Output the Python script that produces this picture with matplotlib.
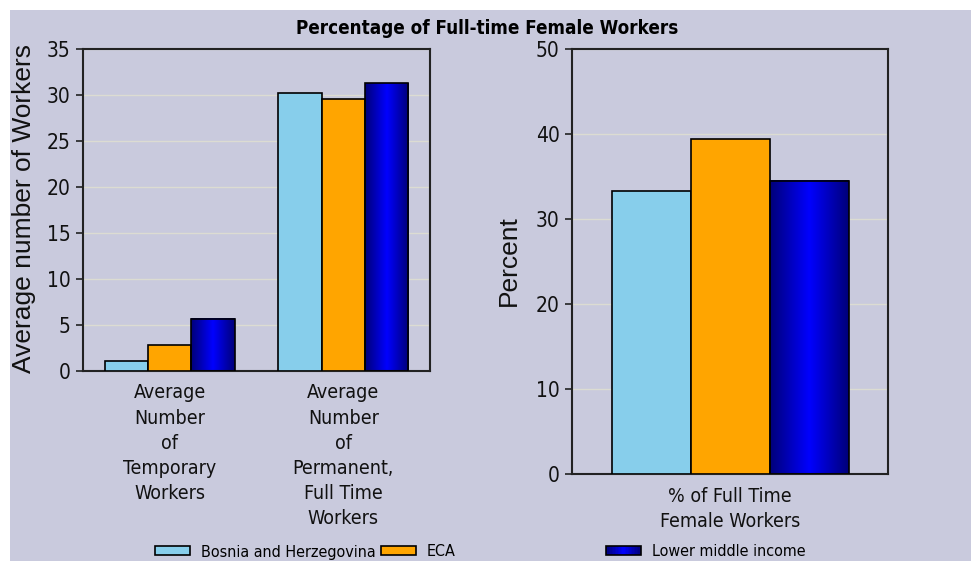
import numpy as np
import matplotlib
matplotlib.use("Agg")
from matplotlib import pyplot as plt
from matplotlib import font_manager
from matplotlib.patches import Rectangle
from matplotlib.colors import LinearSegmentedColormap
from matplotlib.legend_handler import HandlerBase

# data
series = ["Bosnia and Herzegovina", "ECA", "Lower middle income"]
left_cats = ["Average\nNumber\nof\nTemporary\nWorkers",
             "Average\nNumber\nof\nPermanent,\nFull Time\nWorkers"]
bosnia_workers = [1.1, 30.2]
eca_workers = [2.8, 29.6]
lmi_workers = [5.7, 31.3]

right_cats = ["% of Full Time\nFemale Workers"]
bosnia_female = [33.3]
eca_female = [39.4]
lmi_female = [34.5]

bg = "#c9cadd"
light_blue = "#87ceeb"
orange = "#ffa500"
blue_cmap = LinearSegmentedColormap.from_list("bl", ["#00007a", "#0000ff", "#00007a"])

# a narrow face if one is there, else condensed DejaVu
installed = {f.name for f in font_manager.fontManager.ttflist}
if "Liberation Sans Narrow" in installed:
    narrow = dict(family=["Liberation Sans Narrow", "DejaVu Sans"])
else:
    narrow = dict(family=["DejaVu Sans"], stretch="condensed")
regular = dict(family=["Liberation Sans", "DejaVu Sans"])


class GradientHandler(HandlerBase):
    def create_artists(self, legend, orig_handle, xdescent, ydescent,
                       width, height, fontsize, trans):
        n = 24
        out = []
        for i in range(n):
            out.append(Rectangle((-xdescent + i * width / n, -ydescent), width / n, height,
                                 facecolor=blue_cmap(i / (n - 1)), edgecolor="none",
                                 transform=trans))
        out.append(Rectangle((-xdescent, -ydescent), width, height, fill=False,
                             edgecolor="black", lw=1.2, transform=trans))
        return out


def gradient_bars(ax, xs, heights, width):
    grad = np.linspace(0, 1, 64).reshape(1, -1)
    for x, h in zip(xs, heights):
        ax.imshow(grad, cmap=blue_cmap, aspect="auto", interpolation="bilinear",
                  extent=(x - width / 2, x + width / 2, 0, h), zorder=2)
    ax.bar(xs, heights, width, facecolor="none", edgecolor="black", lw=1.2, zorder=3)


def draw(ax, cats, vals, ymax, ystep):
    w = 0.25
    x = np.arange(len(cats))
    ax.set_facecolor(bg)
    ax.bar(x - w, vals[0], w, color=light_blue, edgecolor="black", lw=1.2, zorder=3)
    ax.bar(x, vals[1], w, color=orange, edgecolor="black", lw=1.2, zorder=3)
    gradient_bars(ax, x + w, vals[2], w)
    ax.set_xlim(-0.5, len(cats) - 0.5)
    ax.set_ylim(0, ymax)
    ax.set_yticks(np.arange(0, ymax + 1, ystep))
    ax.set_xticks(x)
    ax.set_xticklabels(cats, fontsize=14, linespacing=1.41, color="#111111", **narrow)
    ax.tick_params(axis="x", length=0, pad=9)
    ax.tick_params(axis="y", length=5, width=1.2, pad=4, color="#222222", labelcolor="#111111")
    for lab in ax.get_yticklabels():
        lab.set_fontproperties(font_manager.FontProperties(size=15, **narrow))
    ax.yaxis.grid(True, color="#dcdcd2", lw=1, zorder=1)
    ax.set_axisbelow(True)
    for s in ax.spines.values():
        s.set_color("#222222")
        s.set_linewidth(1.5)


fig = plt.figure(figsize=(9.77, 5.61), dpi=100, facecolor="white")
fig.patches.append(Rectangle((10 / 977, 0), 961 / 977, 551 / 561, transform=fig.transFigure,
                             facecolor=bg, edgecolor="none", zorder=-5))

ax1 = fig.add_axes([83 / 977, 190 / 561, 347 / 977, 322 / 561])
draw(ax1, left_cats, [bosnia_workers, eca_workers, lmi_workers], 35, 5)

ax2 = fig.add_axes([572 / 977, 87 / 561, 316 / 977, 425 / 561])
draw(ax2, right_cats, [bosnia_female, eca_female, lmi_female], 50, 10)

fig.text(24 / 977, 1 - 208 / 561, "Average number of Workers", rotation=90,
         ha="center", va="center", fontsize=19, color="#111111", **regular)
fig.text(509 / 977, 1 - 261 / 561, "Percent", rotation=90,
         ha="center", va="center", fontsize=19, color="#111111", **regular)

fig.text(487 / 977, 1 - 28 / 561, "Percentage of Full-time Female Workers",
         ha="center", va="center", fontsize=13.5, fontweight="bold", **narrow)

# legend, one entry per column
handles = [Rectangle((0, 0), 1, 1, facecolor=light_blue, edgecolor="black", lw=1.2),
           Rectangle((0, 0), 1, 1, facecolor=orange, edgecolor="black", lw=1.2),
           Rectangle((0, 0), 1, 1, facecolor="blue", edgecolor="black", lw=1.2)]
for h, name, xl in zip(handles, series, [155, 381, 606]):
    fig.legend([h], [name], loc="center left", bbox_to_anchor=(xl / 977, 1 - 552 / 561),
               frameon=False, borderpad=0, borderaxespad=0, handlelength=2.2,
               handleheight=0.5, handletextpad=0.65,
               prop=font_manager.FontProperties(size=11.5, **narrow),
               handler_map={handles[2]: GradientHandler()})

fig.savefig("out.png", dpi=100, facecolor="white")
